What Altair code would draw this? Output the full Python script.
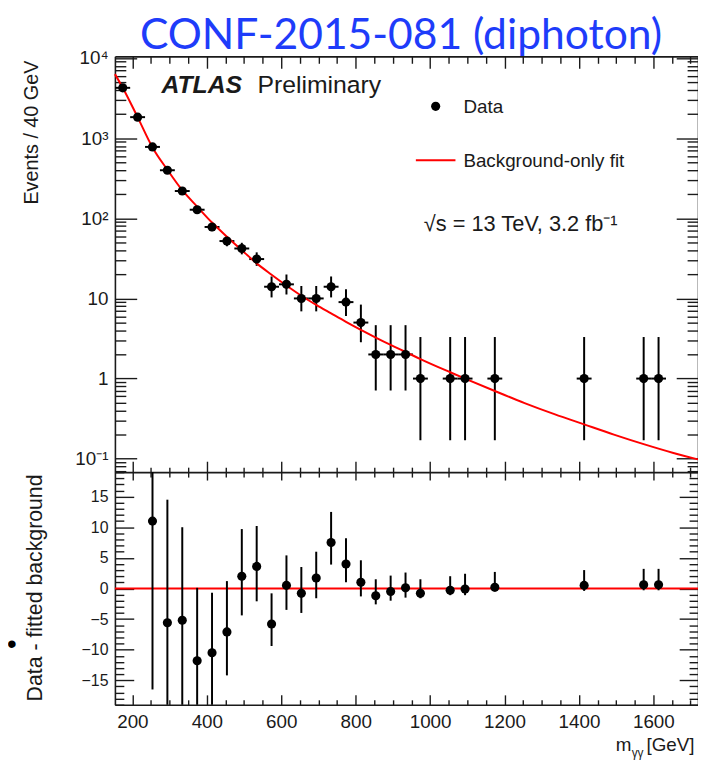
import altair as alt
import pandas as pd

# ---------------- data ----------------
mass = [174, 214, 254, 294, 334, 374, 414, 454, 494, 534, 574, 614, 654, 694, 734,
        774, 814, 854, 894, 934, 974, 1054, 1094, 1174, 1414, 1574, 1614]
events = [4250, 1830, 778, 398, 219, 128, 78, 52, 42, 31, 14, 15, 10, 10, 14,
          9, 5, 2, 2, 2, 1, 1, 1, 1, 1, 1, 1]
events_lo = [4185, 1787, 750, 378, 204.7, 116.7, 69.2, 44.8, 35.5, 25.5, 10.3, 11.2, 6.9, 6.9, 10.3,
             6.05, 2.84, 0.71, 0.71, 0.71, 0.17, 0.17, 0.17, 0.17, 0.17, 0.17, 0.17]
events_hi = [4315, 1873, 806, 418, 234, 139.3, 87.9, 60.2, 49.5, 37.6, 18.8, 19.9, 14.3, 14.3, 18.8,
             13.06, 8.38, 4.64, 4.64, 4.64, 3.3, 3.3, 3.3, 3.3, 3.3, 3.3, 3.3]
bin_half = 20  # 40 GeV bins

fit_mass = [153, 174, 214, 254, 294, 334, 374, 414, 454, 494, 534, 574, 614, 654, 694, 734,
            774, 814, 854, 894, 934, 974, 1054, 1094, 1174, 1254, 1334, 1414, 1494, 1574, 1654, 1720]
fit_events = [6300, 4270, 1830, 767, 404, 224, 140, 88.5, 59, 40, 27.4, 19.8, 14.5, 10.8, 8.3, 6.5,
              5.1, 4.05, 3.25, 2.63, 2.15, 1.75, 1.2, 1.0, 0.70, 0.495, 0.36, 0.268, 0.2, 0.152, 0.118, 0.098]

res_mass = [254, 294, 334, 374, 414, 454, 494, 534, 574, 614, 654, 694, 734, 774, 814,
            854, 894, 934, 974, 1054, 1094, 1174, 1414, 1574, 1614]
residual = [11.0, -5.6, -5.2, -11.8, -10.5, -7.1, 2.0, 3.6, -5.8, 0.5, -0.8, 1.7, 7.5, 4.0, 1.0,
            -1.2, -0.5, 0.1, -0.8, -0.3, -0.1, 0.2, 0.5, 0.6, 0.6]
res_lo = [-16.5, -25.5, -20.2, -23.5, -20.3, -14.2, -4.4, -2.1, -9.4, -3.5, -4.0, -1.6, 3.9, 1.0, -1.3,
          -2.6, -2.0, -1.5, -1.6, -1.1, -1.1, -0.5, -0.4, -0.3, -0.3]
res_hi = [38.9, 14.5, 10.0, 0.1, -0.7, 1.2, 9.7, 10.2, -0.8, 5.4, 3.5, 6.0, 12.5, 8.2, 4.6,
          1.5, 2.1, 2.6, 1.5, 2.0, 2.4, 2.7, 3.0, 3.2, 3.2]

x_major = [200, 400, 600, 800, 1000, 1200, 1400, 1600]
x_minor = [250, 300, 350, 450, 500, 550, 650, 700, 750, 850, 900, 950, 1050, 1100, 1150,
           1250, 1300, 1350, 1450, 1500, 1550, 1650, 1700]
yt_major = [0.1, 1, 10, 100, 1000, 10000]
yt_minor = [0.07, 0.08, 0.09] + [k * 10.0 ** e for e in range(-1, 4) for k in range(2, 10)]
yb_major = [-15, -10, -5, 0, 5, 10, 15]
yb_minor = [v for v in range(-19, 20) if v % 5 != 0]

# ---------------- frames ----------------
top = pd.DataFrame({"mass": mass, "events": events, "lo": events_lo, "hi": events_hi})
top["xlo"] = top["mass"] - bin_half
top["xhi"] = top["mass"] + bin_half
fit = pd.DataFrame({"mass": fit_mass, "events": fit_events})
bot = pd.DataFrame({"mass": res_mass, "res": residual, "lo": res_lo, "hi": res_hi})
zero = pd.DataFrame({"zero": [0]})

W, H = 589, 655
HT = 420  # top panel height
HB = H - HT

FONT = "Liberation Sans"
INK = "#1a1a1a"

xscale = alt.Scale(domain=[153, 1720], nice=False, zero=False)
ytop = alt.Scale(type="log", domain=[0.068, 10500], range=[HT, 0], nice=False)
ybot = alt.Scale(domain=[-19, 19], range=[H, HT], nice=False, zero=False, clamp=True)


def ax(orient, offset=0, values=None, size=0, labels=False, domain=False, **kw):
    p = dict(orient=orient, offset=offset, grid=False, title=None, labels=labels, domain=domain,
             domainColor=INK, domainWidth=1.6, tickColor=INK, tickWidth=1.4)
    if values is not None:
        p["values"] = values
    if size > 0:
        p["ticks"] = True
        p["tickSize"] = size
    else:
        p["ticks"] = False
    p.update(kw)
    return alt.Axis(**p)


yt_expr = ("datum.value >= 9999 ? '10⁴' : datum.value >= 999 ? '10³' : datum.value >= 99 ? '10²' : "
           "datum.value >= 9.9 ? '10' : datum.value >= 0.99 ? '1' : '10⁻¹'")

# x axes
xa_labels = ax("bottom", 0, x_major, 0, labels=True, domain=True, labelFontSize=19, labelFont=FONT,
               labelColor=INK, labelPadding=8, format="d")
xa_bot_maj = ax("top", -H, x_major, 10)
xa_bot_min = ax("top", -H, x_minor, 5)
xa_sepdn_maj = ax("bottom", -HB, x_major, 8, domain=True)
xa_sepdn_min = ax("bottom", -HB, x_minor, 5)
xa_sepup_maj = ax("top", -HT, x_major, 11)
xa_sepup_min = ax("top", -HT, x_minor, 5)
xa_top_maj = ax("bottom", -H, x_major, 12, domain=True)
xa_top_min = ax("bottom", -H, x_minor, 7)

# y axes top
yt_labels = ax("left", 0, yt_major, 0, labels=True, domain=True, labelFontSize=19, labelFont=FONT,
               labelColor=INK, labelPadding=7, labelExpr=yt_expr)
yt_l_maj = ax("right", -W, yt_major, 22)
yt_l_min = ax("right", -W, yt_minor, 11)
yt_r_maj = ax("left", -W, yt_major, 22, domain=True)
yt_r_min = ax("left", -W, yt_minor, 11)
# y axes bottom
yb_labels = ax("left", 0, yb_major, 0, labels=True, domain=True, labelFontSize=16, labelFont=FONT,
               labelColor=INK, labelPadding=7)
yb_l_maj = ax("right", -W, yb_major, 19)
yb_l_min = ax("right", -W, yb_minor, 9)
yb_r_maj = ax("left", -W, yb_major, 19, domain=True)
yb_r_min = ax("left", -W, yb_minor, 9)

# ---------------- top panel ----------------
errT = alt.Chart(top).mark_rule(color="black", strokeWidth=2).encode(
    x=alt.X("mass:Q", scale=xscale, axis=xa_labels),
    y=alt.Y("lo:Q", scale=ytop, axis=yt_labels), y2="hi:Q")
hbarT = alt.Chart(top).mark_rule(color="black", strokeWidth=2).encode(
    x=alt.X("xlo:Q", scale=xscale, axis=xa_bot_maj), x2="xhi:Q",
    y=alt.Y("events:Q", scale=ytop, axis=yt_l_maj))
fitT = alt.Chart(fit).mark_line(color="#ff0000", strokeWidth=2, interpolate="monotone").encode(
    x=alt.X("mass:Q", scale=xscale, axis=xa_bot_min),
    y=alt.Y("events:Q", scale=ytop, axis=yt_l_min))
ptsT = alt.Chart(top).mark_circle(color="black", size=85, opacity=1).encode(
    x=alt.X("mass:Q", scale=xscale, axis=xa_sepup_maj),
    y=alt.Y("events:Q", scale=ytop, axis=yt_r_maj))
dumT = alt.Chart(top).mark_point(opacity=0).encode(
    x=alt.X("mass:Q", scale=xscale, axis=xa_sepup_min),
    y=alt.Y("events:Q", scale=ytop, axis=yt_r_min))

# ---------------- bottom panel ----------------
zeroB = alt.Chart(zero).mark_rule(color="#ff0000", strokeWidth=2).encode(
    y=alt.Y("zero:Q", scale=ybot, axis=yb_l_min))
errB = alt.Chart(bot).mark_rule(color="black", strokeWidth=2).encode(
    x=alt.X("mass:Q", scale=xscale, axis=xa_sepdn_maj),
    y=alt.Y("lo:Q", scale=ybot, axis=yb_labels), y2="hi:Q")
ptsB = alt.Chart(bot).mark_circle(color="black", size=85, opacity=1).encode(
    x=alt.X("mass:Q", scale=xscale, axis=xa_sepdn_min),
    y=alt.Y("res:Q", scale=ybot, axis=yb_l_maj))
dumB1 = alt.Chart(bot).mark_point(opacity=0).encode(
    x=alt.X("mass:Q", scale=xscale, axis=xa_top_maj),
    y=alt.Y("res:Q", scale=ybot, axis=yb_r_maj))
dumB2 = alt.Chart(bot).mark_point(opacity=0).encode(
    x=alt.X("mass:Q", scale=xscale, axis=xa_top_min),
    y=alt.Y("res:Q", scale=ybot, axis=yb_r_min))


# ---------------- annotations ----------------
def txt(text, x, y, size, font=FONT, color=INK, align="left", baseline="middle", **kw):
    return alt.Chart(pd.DataFrame({"t": [text]})).mark_text(
        font=font, fontSize=size, color=color, align=align, baseline=baseline, **kw
    ).encode(x=alt.value(x), y=alt.value(y), text="t:N")


title = txt("CONF-2015-081 (diphoton)", 289, -7, 43, font="Lato", color="#1e3cfa",
            align="center", baseline="alphabetic")
ylab_top = txt("Events / 40 GeV", -84, 77, 20, align="center", angle=270)
ylab_bot = txt("Data - fitted background", -80, 537, 21.5, align="center", angle=270)
bullet = txt("•", -104, 595, 28, color="black", align="center")
atlas = txt("ATLAS", 47, 37, 25, baseline="alphabetic", fontStyle="italic", fontWeight="bold")
prelim = txt("Preliminary", 144, 37, 25, baseline="alphabetic")
leg_data = txt("Data", 352, 51, 19)
leg_fit = txt("Background-only fit", 352, 105.5, 19)
energy = txt("√s = 13 TeV, 3.2 fb⁻¹", 312, 169, 22)
xl_m = txt("m", 506, 702, 19, baseline="alphabetic")
xl_g = txt("γγ", 522, 708, 12, baseline="alphabetic")
xl_u = txt("[GeV]", 537, 702, 19, baseline="alphabetic")

leg_dot = alt.Chart(pd.DataFrame({"a": [0]})).mark_circle(color="black", size=85, opacity=1).encode(
    x=alt.value(324), y=alt.value(50.5))
leg_line = alt.Chart(pd.DataFrame({"a": [0]})).mark_rule(color="#ff0000", strokeWidth=2).encode(
    x=alt.value(304), x2=alt.value(344), y=alt.value(105))

chart = alt.layer(
    errT, hbarT, fitT, ptsT, dumT,
    zeroB, errB, ptsB, dumB1, dumB2,
    title, ylab_top, ylab_bot, bullet, atlas, prelim, leg_data, leg_fit, energy,
    xl_m, xl_g, xl_u, leg_dot, leg_line,
).resolve_scale(y="independent").resolve_axis(x="independent", y="independent").properties(
    width=W, height=H,
    autosize=alt.AutoSizeParams(type="none"),
    padding={"left": 108, "top": 45, "right": 0, "bottom": 57},
    background="white",
).configure_view(stroke=None)

chart.save("out.html", embed_options={"renderer": "svg", "actions": False})
